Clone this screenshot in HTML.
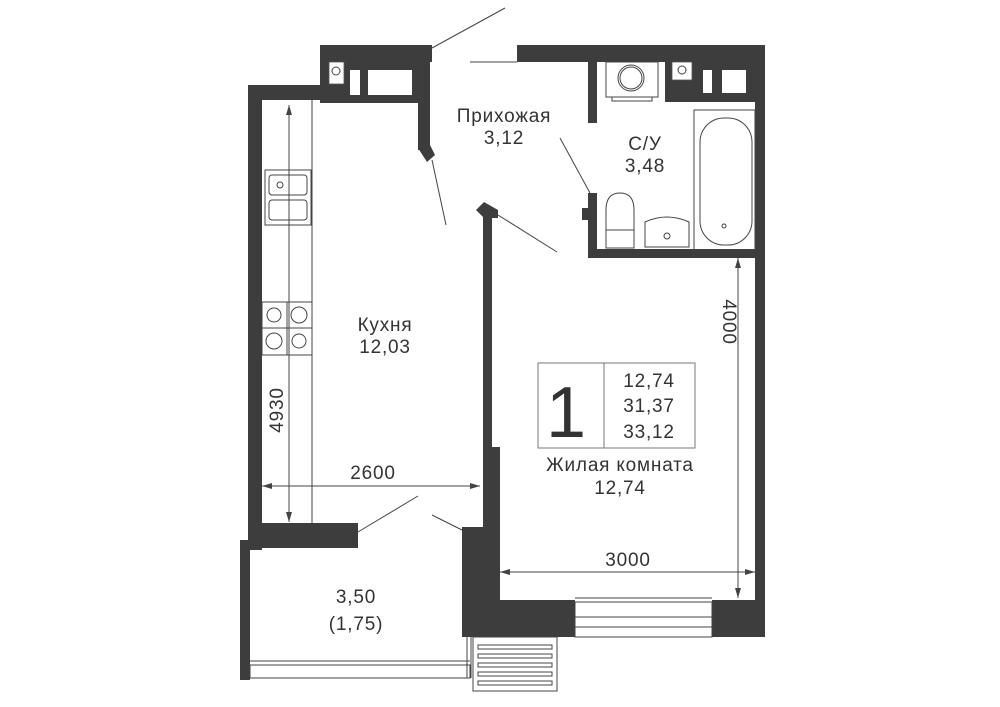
<!DOCTYPE html>
<html><head><meta charset="utf-8"><style>
body{margin:0;background:#fff}
svg{display:block}
text{font-family:"Liberation Sans",sans-serif;fill:#333}
</style></head><body>
<svg width="1000" height="707" viewBox="0 0 1000 707" xmlns="http://www.w3.org/2000/svg">
<defs><marker id="a" viewBox="0 0 10 6" refX="10" refY="3" markerWidth="10" markerHeight="6" orient="auto-start-reverse"><path d="M0,0L10,3L0,6z" fill="#444"/></marker></defs>
<g fill="#3d3d3d">
<!-- kitchen -->
<rect x="248" y="85" width="14" height="465"/>
<rect x="248" y="85" width="80" height="15"/>
<rect x="320" y="45" width="112" height="17"/>
<rect x="320" y="45" width="10" height="58"/>
<rect x="320" y="60" width="110" height="43"/>
<rect x="418" y="58" width="12" height="92"/>
<polygon points="418,148 430,145 435,155 427,162"/>
<rect x="248" y="523" width="110" height="25"/>
<rect x="240" y="540" width="10" height="140"/>
<!-- top right -->
<rect x="517" y="45" width="248" height="17"/>
<rect x="588" y="58" width="9" height="65"/>
<rect x="588" y="193" width="9" height="65"/>
<rect x="582" y="208" width="8" height="12"/>
<rect x="588" y="249" width="177" height="9"/>
<rect x="755" y="45" width="10" height="592"/>
<rect x="665" y="58" width="90" height="44"/>
<!-- living -->
<rect x="483" y="210" width="9" height="245"/>
<polygon points="476,210 484,202 498,210 498,218 484,218"/>
<rect x="483" y="447" width="17" height="85"/>
<rect x="462" y="527" width="38" height="110"/>
<rect x="462" y="600" width="113" height="37"/>
<rect x="712" y="600" width="53" height="37"/>
</g>
<!-- shaft cutouts -->
<g fill="#fff" stroke="#555" stroke-width="0.8">
<rect x="329" y="62" width="15" height="22"/>
<rect x="350" y="70" width="10" height="25" stroke="none"/>
<rect x="368" y="70" width="44" height="25" stroke="none"/>
<rect x="672" y="62" width="20" height="18"/>
<rect x="703" y="70" width="9" height="23" stroke="none"/>
<rect x="722" y="70" width="24" height="23" stroke="none"/>
</g>
<g fill="none" stroke="#444" stroke-width="1">
<circle cx="336" cy="71" r="4"/>
<circle cx="682" cy="70" r="4"/>
<line x1="432" y1="48" x2="505" y2="8"/>
<line x1="470" y1="62" x2="517" y2="62"/>
<line x1="432" y1="160" x2="446" y2="225"/>
<line x1="560" y1="138" x2="590" y2="193"/>
<line x1="498" y1="215" x2="557" y2="252"/>
<line x1="358" y1="532" x2="418" y2="496"/>
<line x1="432" y1="515" x2="462" y2="530"/>
<!-- kitchen counter -->
<line x1="312" y1="100" x2="312" y2="523"/>
<rect x="265" y="170" width="46" height="55"/>
<rect x="269" y="175" width="38" height="20" rx="3"/>
<rect x="269" y="200" width="38" height="20" rx="3"/>
<circle cx="280" cy="185" r="3"/>
<rect x="262" y="302" width="50" height="53"/>
<line x1="287" y1="302" x2="287" y2="355"/><line x1="262" y1="328" x2="312" y2="328"/>
<circle cx="274" cy="315" r="7"/><circle cx="299" cy="315" r="8"/>
<circle cx="274" cy="341" r="8"/><circle cx="299" cy="341" r="7"/>
<!-- bathroom -->
<rect x="606" y="62" width="52" height="35"/>
<circle cx="631" cy="78" r="13"/><circle cx="631" cy="78" r="11"/>
<rect x="612" y="97" width="40" height="4"/>
<rect x="694" y="110" width="61" height="140"/>
<rect x="700" y="118" width="52" height="127" rx="24"/>
<circle cx="724" cy="226" r="2"/>
<path d="M606,230 L606,210 Q606,193 620,193 Q634,193 634,210 L634,230 Z"/>
<rect x="606" y="230" width="28" height="18"/>
<path d="M645,222 Q667,212 689,222 L689,247 L645,247 Z"/>
<circle cx="667" cy="236" r="3"/>
<!-- info box -->
<rect x="538" y="363" width="157" height="85" stroke="#777"/>
<line x1="604" y1="363" x2="604" y2="448" stroke="#777"/>
<!-- window -->
<line x1="575" y1="598" x2="712" y2="598"/>
<rect x="575" y="602" width="137" height="35" fill="#fff"/>
<line x1="575" y1="617" x2="712" y2="617"/>
<line x1="575" y1="627" x2="712" y2="627"/>
<!-- balcony -->
<rect x="250" y="665" width="220" height="13"/>
<line x1="250" y1="661" x2="470" y2="661"/>
<line x1="467" y1="637" x2="467" y2="678"/><line x1="471" y1="637" x2="471" y2="678"/>
<rect x="473" y="637" width="84" height="54"/>
<rect x="478" y="645" width="74" height="4"/><rect x="478" y="654" width="74" height="4"/>
<rect x="478" y="663" width="74" height="4"/><rect x="478" y="672" width="74" height="4"/>
<rect x="478" y="681" width="74" height="4"/>
</g>
<g stroke="#444" stroke-width="1">
<line x1="289" y1="105" x2="289" y2="522" marker-start="url(#a)" marker-end="url(#a)"/>
<line x1="262" y1="486" x2="480" y2="486" marker-start="url(#a)" marker-end="url(#a)"/>
<line x1="500" y1="572" x2="755" y2="572" marker-start="url(#a)" marker-end="url(#a)"/>
<line x1="738" y1="258" x2="738" y2="598" marker-start="url(#a)" marker-end="url(#a)"/>
</g>
<g font-size="19" text-anchor="middle" letter-spacing="0.8">
<text x="504" y="122">Прихожая</text><text x="504" y="144">3,12</text>
<text x="645" y="150">С/У</text><text x="645" y="172">3,48</text>
<text x="385" y="331">Кухня</text><text x="385" y="353">12,03</text>
<text x="620" y="471">Жилая комната</text><text x="620" y="494">12,74</text>
<text x="373" y="479">2600</text>
<text x="628" y="566">3000</text>
<text x="356" y="603">3,50</text><text x="356" y="630">(1,75)</text>
<text transform="translate(283,410) rotate(-90)">4930</text>
<text transform="translate(723,322) rotate(90)">4000</text>
<text x="649" y="387">12,74</text><text x="649" y="412">31,37</text><text x="649" y="438">33,12</text>
</g>
<text x="566" y="437" font-size="72" text-anchor="middle">1</text>
</svg>
</body></html>
